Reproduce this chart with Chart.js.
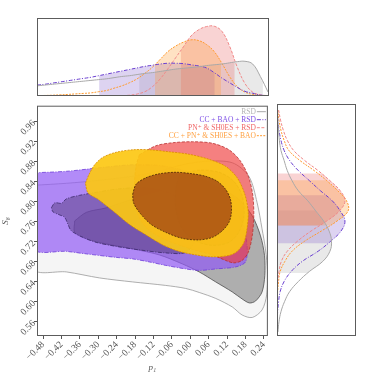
<!DOCTYPE html>
<html>
<head>
<meta charset="utf-8">
<script src="https://cdn.jsdelivr.net/npm/chart.js@4.4.0/dist/chart.umd.min.js"></script>
<style>
  html, body { margin: 0; padding: 0; background: #fff; }
  #wrap { position: relative; width: 374px; height: 374px; }
  #wrap canvas { position: absolute; }
</style>
</head>
<body>
<div id="wrap">
  <canvas id="top-chart" width="374" height="100" style="left:0;top:0"></canvas>
  <canvas id="main-chart" width="272" height="274" style="left:0;top:100px"></canvas>
  <canvas id="side-chart" width="102" height="274" style="left:272px;top:100px"></canvas>
</div>
<script>
// axis ranges and ticks
const P1_RANGE = [-0.50, 0.253];
const S8_RANGE = [0.532, 0.992];
const P1_TICKS = [-0.48, -0.42, -0.36, -0.30, -0.24, -0.18, -0.12, -0.06, 0.00, 0.06, 0.12, 0.18, 0.24];
const S8_TICKS = [0.56, 0.60, 0.64, 0.68, 0.72, 0.76, 0.80, 0.84, 0.88, 0.92, 0.96];

const LABELS = ['RSD', 'CC + BAO + RSD', 'PN\u207A & SH0ES + RSD', 'CC + PN\u207A & SH0ES + BAO'];

// 1D marginal of p1 (top panel), normalised heights
const P1_GRID = [-0.500, -0.475, -0.450, -0.425, -0.400, -0.375, -0.350, -0.325, -0.300, -0.275, -0.250,
  -0.225, -0.200, -0.175, -0.150, -0.125, -0.100, -0.075, -0.050, -0.025, 0.000, 0.025, 0.050, 0.075,
  0.100, 0.125, 0.150, 0.175, 0.200, 0.225, 0.250];
const P1_RSD = [0.13, 0.14, 0.15, 0.16, 0.17, 0.18, 0.19, 0.20, 0.21, 0.22, 0.235, 0.25, 0.26, 0.275, 0.29,
  0.30, 0.315, 0.33, 0.345, 0.355, 0.365, 0.375, 0.39, 0.40, 0.41, 0.425, 0.44, 0.445, 0.41, 0.25, 0.05];
const P1_CC_BAO = [0.14, 0.15, 0.165, 0.18, 0.195, 0.21, 0.225, 0.24, 0.26, 0.28, 0.30, 0.32, 0.34, 0.36,
  0.38, 0.395, 0.41, 0.42, 0.42, 0.415, 0.40, 0.385, 0.36, 0.30, 0.23, 0.17, 0.11, 0.06, 0.035, 0.012, 0.003];
const P1_PN_RSD = [0, 0, 0, 0, 0, 0, 0, 0, 0, 0, 0.002, 0.005, 0.01, 0.025, 0.055, 0.12, 0.22, 0.35, 0.49,
  0.63, 0.77, 0.85, 0.89, 0.895, 0.83, 0.64, 0.37, 0.16, 0.05, 0.015, 0.004];
const P1_CC_PN_BAO = [0.005, 0.007, 0.01, 0.015, 0.02, 0.027, 0.033, 0.04, 0.055, 0.07, 0.10, 0.13, 0.17,
  0.22, 0.29, 0.37, 0.47, 0.57, 0.64, 0.69, 0.72, 0.71, 0.66, 0.57, 0.42, 0.25, 0.12, 0.05, 0.02, 0.008, 0.003];
const P1_INTERVALS = [[-0.168, 0.233], [-0.298, 0.076], [-0.033, 0.141], [-0.117, 0.097]];

// 1D marginal of S8 (right panel)
const S8_GRID = [0.54, 0.56, 0.58, 0.60, 0.62, 0.64, 0.66, 0.68, 0.70, 0.72, 0.74, 0.76, 0.78, 0.80, 0.82,
  0.84, 0.86, 0.88, 0.90, 0.92, 0.94, 0.96, 0.98];
const S8_RSD = [0.012, 0.025, 0.05, 0.095, 0.16, 0.27, 0.41, 0.58, 0.67, 0.69, 0.66, 0.59, 0.49, 0.39, 0.27,
  0.19, 0.13, 0.09, 0.05, 0.03, 0.02, 0.01, 0.005];
const S8_CC_BAO = [0.001, 0.003, 0.008, 0.02, 0.04, 0.09, 0.18, 0.32, 0.52, 0.68, 0.81, 0.86, 0.80, 0.70,
  0.55, 0.41, 0.27, 0.16, 0.09, 0.05, 0.025, 0.01, 0.003];
const S8_PN_RSD = [0, 0, 0.001, 0.003, 0.005, 0.01, 0.025, 0.055, 0.13, 0.26, 0.43, 0.63, 0.79, 0.86, 0.80,
  0.67, 0.52, 0.35, 0.21, 0.13, 0.08, 0.045, 0.02];
const S8_CC_PN_BAO = [0.001, 0.001, 0.002, 0.003, 0.008, 0.02, 0.04, 0.10, 0.19, 0.35, 0.56, 0.76, 0.90,
  0.88, 0.77, 0.63, 0.47, 0.29, 0.15, 0.09, 0.05, 0.025, 0.01];
const S8_INTERVALS = [[0.657, 0.781], [0.716, 0.811], [0.751, 0.854], [0.751, 0.841]];

// 2D contours [p1, S8]
const RSD_2SIGMA = [[-0.51, 0.833], [-0.404, 0.837], [-0.296, 0.843], [-0.188, 0.851], [-0.101, 0.861],
  [-0.026, 0.874], [0.050, 0.881], [0.137, 0.878], [0.191, 0.851], [0.218, 0.798], [0.234, 0.746],
  [0.245, 0.706], [0.252, 0.660], [0.249, 0.614], [0.234, 0.584], [0.202, 0.569], [0.169, 0.574],
  [0.137, 0.590], [0.083, 0.607], [0.029, 0.619], [-0.015, 0.627], [-0.080, 0.633], [-0.188, 0.640],
  [-0.296, 0.648], [-0.404, 0.660], [-0.51, 0.666]];
const RSD_1SIGMA = [[-0.377, 0.762], [-0.339, 0.779], [-0.274, 0.788], [-0.188, 0.805], [-0.112, 0.818],
  [-0.036, 0.831], [0.029, 0.835], [0.094, 0.828], [0.158, 0.805], [0.202, 0.772], [0.229, 0.732],
  [0.242, 0.693], [0.243, 0.653], [0.234, 0.620], [0.213, 0.602], [0.193, 0.598], [0.169, 0.606],
  [0.137, 0.620], [0.083, 0.640], [0.029, 0.660], [-0.026, 0.676], [-0.101, 0.694], [-0.188, 0.706],
  [-0.274, 0.716], [-0.339, 0.726], [-0.377, 0.739]];
const CC_BAO_2SIGMA = [[-0.51, 0.858], [-0.404, 0.861], [-0.296, 0.868], [-0.188, 0.874], [-0.080, 0.871],
  [0.029, 0.851], [0.115, 0.812], [0.169, 0.759], [0.185, 0.713], [0.180, 0.680], [0.148, 0.670],
  [0.083, 0.666], [0.029, 0.663], [-0.015, 0.666], [-0.080, 0.673], [-0.134, 0.680], [-0.188, 0.686],
  [-0.242, 0.689], [-0.339, 0.696], [-0.404, 0.701], [-0.51, 0.706]];
const CC_BAO_1SIGMA = [[-0.453, 0.788], [-0.442, 0.798], [-0.420, 0.797], [-0.404, 0.806], [-0.361, 0.813],
  [-0.307, 0.819], [-0.231, 0.826], [-0.145, 0.828], [-0.069, 0.818], [-0.015, 0.798], [0.018, 0.765],
  [0.018, 0.726], [-0.015, 0.699], [-0.080, 0.698], [-0.166, 0.704], [-0.242, 0.711], [-0.307, 0.719],
  [-0.350, 0.729], [-0.388, 0.742], [-0.399, 0.755], [-0.410, 0.769], [-0.431, 0.775], [-0.448, 0.780]];
const PN_RSD_2SIGMA = [[-0.166, 0.894], [-0.112, 0.912], [-0.058, 0.918], [0.007, 0.920], [0.072, 0.917],
  [0.126, 0.904], [0.164, 0.881], [0.191, 0.848], [0.204, 0.812], [0.207, 0.772], [0.202, 0.732],
  [0.189, 0.699], [0.169, 0.683], [0.142, 0.678], [0.115, 0.683], [0.072, 0.694], [0.007, 0.705],
  [-0.080, 0.724], [-0.145, 0.749], [-0.177, 0.785], [-0.182, 0.831], [-0.177, 0.871]];
const PN_RSD_1SIGMA = [[-0.036, 0.854], [0.029, 0.863], [0.094, 0.859], [0.142, 0.841], [0.169, 0.812],
  [0.175, 0.772], [0.158, 0.739], [0.126, 0.719], [0.072, 0.713], [0.018, 0.722], [-0.026, 0.746],
  [-0.047, 0.785], [-0.047, 0.825]];
const CC_PN_BAO_2SIGMA = [[-0.342, 0.837], [-0.331, 0.854], [-0.312, 0.874], [-0.285, 0.889], [-0.242, 0.899],
  [-0.188, 0.904], [-0.134, 0.904], [-0.069, 0.900], [-0.004, 0.895], [0.061, 0.885], [0.115, 0.871],
  [0.153, 0.848], [0.178, 0.815], [0.189, 0.779], [0.185, 0.746], [0.175, 0.719], [0.153, 0.701],
  [0.126, 0.693], [0.072, 0.690], [0.018, 0.694], [-0.036, 0.701], [-0.090, 0.714], [-0.145, 0.734],
  [-0.199, 0.755], [-0.253, 0.782], [-0.301, 0.805], [-0.334, 0.818]];
const CC_PN_BAO_1SIGMA = [[-0.188, 0.815], [-0.177, 0.835], [-0.145, 0.848], [-0.101, 0.856], [-0.047, 0.859],
  [0.007, 0.856], [0.050, 0.851], [0.088, 0.841], [0.115, 0.825], [0.131, 0.805], [0.134, 0.779],
  [0.126, 0.759], [0.104, 0.742], [0.072, 0.729], [0.029, 0.724], [-0.026, 0.727], [-0.080, 0.739],
  [-0.128, 0.755], [-0.166, 0.779], [-0.185, 0.798]];

const STYLES = [
  { line: '#a8a8a8', text: '#b4b4b4', dash: [], band: 'rgba(120,120,120,0.16)',
    fill2: 'rgba(190,190,190,0.16)', edge2: '#9a9a9a', fill1: 'rgba(110,110,110,0.52)', edge1: '#505050' },
  { line: '#6a3fd0', text: '#7e4fe6', dash: [4, 1.5, 1, 1.5], band: 'rgba(120,80,200,0.25)',
    fill2: 'rgba(145,90,245,0.7)', edge2: '#7040d8', fill1: 'rgba(60,40,90,0.38)', edge1: '#3b2a6b' },
  { line: '#f08888', text: '#f06666', dash: [3, 1.5], band: 'rgba(230,80,80,0.25)',
    fill2: 'rgba(240,60,60,0.65)', edge2: '#b83030', fill1: 'rgba(170,30,30,0.5)', edge1: '#6e1a1a' },
  { line: '#ff9a2e', text: '#ffa040', dash: [2, 1.2], band: 'rgba(255,150,40,0.28)',
    fill2: 'rgba(252,200,20,0.92)', edge2: '#d88a00', fill1: 'rgba(140,40,20,0.62)', edge1: '#4a2205' },
];

const SERIF = '"Liberation Serif", "DejaVu Serif", serif';

function fmtTick(v) {
  return (v < 0 ? '\u2212' : '') + Math.abs(v).toFixed(2);
}

function closedPath(points) {
  const pts = points.map(([x, y]) => ({ x, y }));
  pts.push({ x: points[0][0], y: points[0][1] });
  return pts;
}

const frame = {
  id: 'frame',
  afterDraw(chart) {
    const { ctx, chartArea: a } = chart;
    ctx.save();
    ctx.strokeStyle = '#5c5c5c';
    ctx.lineWidth = 1;
    ctx.strokeRect(a.left + 0.5, a.top + 0.5, a.right - a.left - 1, a.bottom - a.top - 1);
    ctx.restore();
  },
};

// shade the credible interval under each marginal curve
function bandPlugin(intervals, vertical) {
  return {
    id: 'bands',
    beforeDatasetsDraw(chart) {
      const { ctx, chartArea: a, scales: { x, y } } = chart;
      intervals.forEach(([lo, hi], i) => {
        const line = chart.getDatasetMeta(i).dataset;
        const pts = line.points;
        line.updateControlPoints(a);
        ctx.save();
        ctx.beginPath();
        if (vertical) {
          const y0 = y.getPixelForValue(hi);
          const y1 = y.getPixelForValue(lo);
          ctx.rect(a.left, y0, a.right - a.left, y1 - y0);
        } else {
          const x0 = x.getPixelForValue(lo);
          const x1 = x.getPixelForValue(hi);
          ctx.rect(x0, a.top, x1 - x0, a.bottom - a.top);
        }
        ctx.clip();
        ctx.beginPath();
        line.path(ctx);
        const first = pts[0];
        const last = pts[pts.length - 1];
        if (vertical) {
          const bx = x.getPixelForValue(0);
          ctx.lineTo(bx, last.y);
          ctx.lineTo(bx, first.y);
        } else {
          const by = y.getPixelForValue(0);
          ctx.lineTo(last.x, by);
          ctx.lineTo(first.x, by);
        }
        ctx.closePath();
        ctx.fillStyle = STYLES[i].band;
        ctx.fill();
        ctx.restore();
      });
    },
  };
}

const legendBox = {
  id: 'legendBox',
  afterDatasetsDraw(chart) {
    const { ctx, chartArea: a } = chart;
    ctx.save();
    ctx.font = '7.5px ' + SERIF;
    ctx.textAlign = 'right';
    ctx.textBaseline = 'middle';
    LABELS.forEach((label, i) => {
      const s = STYLES[i];
      const y = a.top + 6 + i * 8;
      ctx.fillStyle = s.text;
      ctx.fillText(label, a.right - 12, y);
      ctx.strokeStyle = s.line;
      ctx.lineWidth = 1;
      ctx.setLineDash(s.dash);
      ctx.beginPath();
      ctx.moveTo(a.right - 11, y);
      ctx.lineTo(a.right - 2, y);
      ctx.stroke();
    });
    ctx.restore();
  },
};

const P1_MARGINALS = [P1_RSD, P1_CC_BAO, P1_PN_RSD, P1_CC_PN_BAO];
const S8_MARGINALS = [S8_RSD, S8_CC_BAO, S8_PN_RSD, S8_CC_PN_BAO];
const CONTOURS = [
  [RSD_2SIGMA, RSD_1SIGMA],
  [CC_BAO_2SIGMA, CC_BAO_1SIGMA],
  [PN_RSD_2SIGMA, PN_RSD_1SIGMA],
  [CC_PN_BAO_2SIGMA, CC_PN_BAO_1SIGMA],
];

function curveDataset(points, i) {
  return {
    data: points,
    showLine: true,
    fill: false,
    borderColor: STYLES[i].line,
    borderWidth: 1,
    borderDash: STYLES[i].dash,
    pointRadius: 0,
    tension: 0.4,
  };
}

const baseOptions = {
  responsive: false,
  animation: false,
  events: [],
  plugins: { legend: { display: false }, tooltip: { enabled: false } },
};

// top marginal
new Chart(document.getElementById('top-chart'), {
  type: 'scatter',
  data: {
    datasets: P1_MARGINALS.map((dens, i) =>
      curveDataset(P1_GRID.map((x, k) => ({ x, y: dens[k] })), i)),
  },
  options: {
    ...baseOptions,
    layout: { padding: { left: 37, right: 105, top: 18, bottom: 4 } },
    scales: {
      x: { type: 'linear', min: P1_RANGE[0], max: P1_RANGE[1], display: false },
      y: { type: 'linear', min: 0, max: 1, display: false },
    },
  },
  plugins: [bandPlugin(P1_INTERVALS, false), frame],
});

// right marginal
new Chart(document.getElementById('side-chart'), {
  type: 'scatter',
  data: {
    datasets: S8_MARGINALS.map((dens, i) =>
      curveDataset(S8_GRID.map((y, k) => ({ x: dens[k], y })), i)),
  },
  options: {
    ...baseOptions,
    layout: { padding: { left: 5, right: 18, top: 4, bottom: 38 } },
    scales: {
      x: { type: 'linear', min: 0, max: 1, display: false },
      y: { type: 'linear', min: S8_RANGE[0], max: S8_RANGE[1], display: false },
    },
  },
  plugins: [bandPlugin(S8_INTERVALS, true), frame],
});

// main 2D panel
const contourSets = [];
CONTOURS.forEach(([outer, inner], i) => {
  const s = STYLES[i];
  [[outer, s.fill2, s.edge2], [inner, s.fill1, s.edge1]].forEach(([pts, fillColor, edge]) => {
    contourSets.push({
      data: closedPath(pts),
      showLine: true,
      fill: 'shape',
      backgroundColor: fillColor,
      borderColor: edge,
      borderWidth: 0.8,
      borderDash: s.dash,
      pointRadius: 0,
      tension: 0.3,
    });
  });
});
contourSets.forEach((ds, i) => { ds.order = contourSets.length - i; });

const tickFont = { family: SERIF, size: 9.5 };

new Chart(document.getElementById('main-chart'), {
  type: 'scatter',
  data: { datasets: contourSets },
  options: {
    ...baseOptions,
    layout: { padding: { left: 0, right: 3, top: 4, bottom: 0 } },
    scales: {
      x: {
        type: 'linear',
        min: P1_RANGE[0],
        max: P1_RANGE[1],
        afterBuildTicks: (axis) => { axis.ticks = P1_TICKS.map((value) => ({ value })); },
        afterFit: (axis) => { axis.height = 38; },
        ticks: { color: '#555', font: tickFont, minRotation: 45, maxRotation: 45, padding: 0,
          autoSkip: false, callback: (v) => fmtTick(v) },
        grid: { drawOnChartArea: false, drawTicks: true, tickLength: 3, color: '#555' },
        border: { display: false },
        title: { display: true, text: 'p\u2081', color: '#555', padding: { top: 0, bottom: 1 },
          font: { family: SERIF, size: 9, style: 'italic' } },
      },
      y: {
        type: 'linear',
        min: S8_RANGE[0],
        max: S8_RANGE[1],
        afterBuildTicks: (axis) => { axis.ticks = S8_TICKS.map((value) => ({ value })); },
        afterFit: (axis) => { axis.width = 37; },
        ticks: { color: '#555', font: tickFont, minRotation: 45, maxRotation: 45, padding: 0,
          autoSkip: false, callback: (v) => fmtTick(v) },
        grid: { drawOnChartArea: false, drawTicks: true, tickLength: 3, color: '#555' },
        border: { display: false },
        title: { display: true, text: 'S\u2088', color: '#555', padding: { top: 0, bottom: 0 },
          font: { family: SERIF, size: 9, style: 'italic' } },
      },
    },
  },
  plugins: [frame, legendBox],
});
</script>
</body>
</html>
